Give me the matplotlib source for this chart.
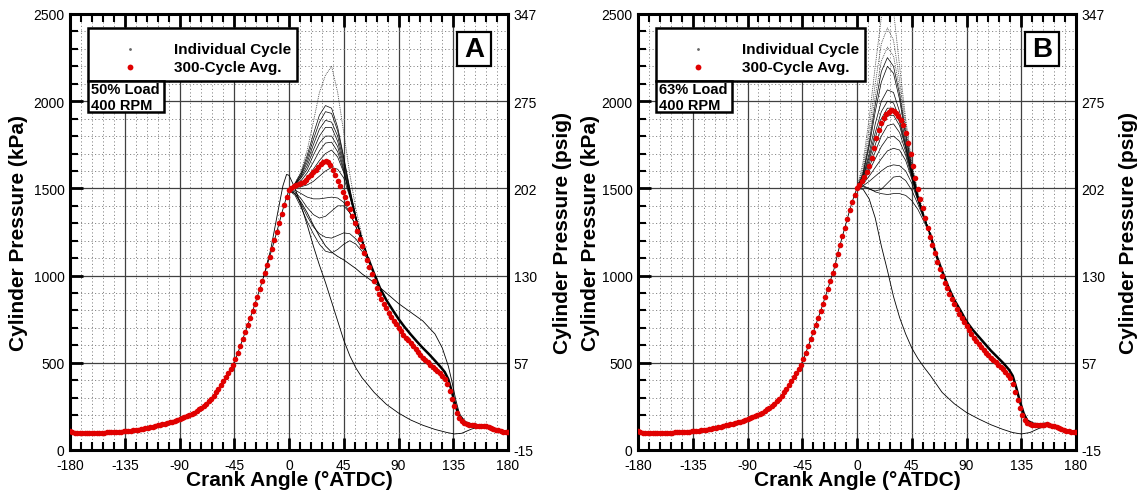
import numpy as np
import matplotlib
matplotlib.use('Agg')
import matplotlib.pyplot as plt
from matplotlib.ticker import MultipleLocator
from matplotlib.patches import Rectangle

plt.rcParams['font.family'] = ['Liberation Sans', 'DejaVu Sans']
plt.rcParams['axes.unicode_minus'] = False

# ---- data (crank angle in deg ATDC, pressure in kPa) ----
ca_avg = np.arange(-180, 181, 2)

# 300-cycle average, panel A (every 2 deg from -180 to 180)
avg_a = [108, 104, 100, 97, 96, 95, 95, 96, 96, 97, 98, 98, 99, 100, 100, 101,
         102, 102, 103, 104, 105, 106, 107, 109, 110, 111, 113, 115, 117, 119, 122,
         125, 128, 131, 134, 138, 141, 144, 148, 151, 155, 159, 163, 168, 172, 177,
         182, 188, 194, 201, 208, 215, 224, 233, 243, 254, 266, 280, 295, 312, 330,
         350, 371, 393, 416, 440, 465, 490, 521, 558, 597, 636, 675, 715, 755, 795,
         837, 880, 923, 968, 1013, 1058, 1105, 1153, 1202, 1252, 1303, 1355, 1405,
         1450, 1490,
         1503, 1512, 1518, 1524, 1530, 1537, 1548, 1563, 1578, 1593, 1608, 1625, 1641,
         1653, 1658, 1652, 1635, 1605, 1575, 1545, 1515, 1482, 1448, 1415, 1380, 1342,
         1300, 1255, 1210, 1170, 1130, 1090, 1050, 1010, 970, 930, 895, 866, 840, 813,
         788, 765, 741, 720, 700, 680, 662, 645, 628, 612, 595, 578, 562, 545, 530,
         515, 502, 489, 477, 465, 452, 439, 425, 408, 378, 340, 295, 252, 212, 184,
         166, 155, 149, 145, 142, 141, 140, 140, 139, 138, 136, 132, 127, 122, 117,
         113, 108, 105, 104, 103]

# 300-cycle average, panel B
avg_b = [108, 104, 100, 97, 96, 95, 95, 96, 96, 97, 98, 98, 99, 100, 100, 101,
         102, 102, 103, 104, 105, 106, 107, 109, 110, 111, 113, 115, 117, 119, 122,
         125, 128, 131, 134, 138, 141, 144, 148, 151, 155, 159, 163, 168, 172, 177,
         182, 188, 194, 201, 208, 215, 224, 233, 243, 254, 266, 280, 295, 312, 330,
         350, 371, 393, 416, 440, 465, 490, 521, 558, 597, 636, 675, 715, 755, 795,
         837, 880, 923, 968, 1013, 1058, 1125, 1175, 1225, 1275, 1325, 1375, 1422,
         1465, 1500,
         1520, 1541, 1565, 1593, 1630, 1675, 1730, 1787, 1835, 1873, 1902, 1925, 1940,
         1947, 1945, 1932, 1916, 1895, 1865, 1818, 1760, 1695, 1627, 1560, 1495, 1437,
         1385, 1328, 1273, 1220, 1173, 1127, 1080, 1040, 1000, 960, 927, 895, 865, 835,
         806, 780, 757, 733, 710, 687, 665, 645, 627, 609, 592, 575, 559, 543, 529,
         515, 502, 489, 475, 462, 448, 432, 410, 378, 335, 285, 238, 200, 170, 155,
         148, 145, 144, 143, 142, 144, 146, 147, 145, 140, 135, 130, 125, 120, 115,
         111, 108, 105, 103, 102]

# individual cycles after TDC (heads), then the common bundle tail
ca_head_a = [0, 5, 10, 15, 20, 25, 30, 35, 40, 45, 50, 55, 60, 65]
heads_a = [
    [1490, 1530, 1600, 1720, 1880, 2050, 2150, 2200, 2050, 1820, 1580, 1380, 1230, 1100],
    [1490, 1530, 1590, 1690, 1810, 1920, 1975, 1960, 1850, 1680, 1500, 1340, 1210, 1100],
    [1490, 1525, 1580, 1670, 1780, 1880, 1940, 1930, 1830, 1670, 1490, 1335, 1210, 1100],
    [1490, 1525, 1575, 1650, 1750, 1840, 1890, 1880, 1800, 1650, 1485, 1335, 1210, 1100],
    [1490, 1520, 1565, 1630, 1720, 1800, 1850, 1850, 1770, 1630, 1475, 1330, 1205, 1100],
    [1490, 1520, 1560, 1610, 1690, 1760, 1800, 1800, 1740, 1610, 1465, 1325, 1205, 1100],
    [1490, 1515, 1545, 1590, 1650, 1715, 1760, 1765, 1710, 1600, 1460, 1320, 1205, 1100],
    [1490, 1510, 1530, 1565, 1610, 1660, 1700, 1720, 1680, 1590, 1460, 1320, 1200, 1100],
    [1490, 1505, 1510, 1520, 1540, 1570, 1600, 1620, 1610, 1560, 1450, 1320, 1200, 1100],
    [1490, 1490, 1470, 1450, 1440, 1440, 1445, 1450, 1445, 1420, 1360, 1280, 1190, 1100],
    [1490, 1480, 1440, 1390, 1350, 1330, 1340, 1370, 1400, 1400, 1360, 1280, 1190, 1100],
    [1490, 1470, 1410, 1340, 1280, 1240, 1220, 1215, 1230, 1245, 1240, 1210, 1160, 1095],
    [1490, 1460, 1390, 1310, 1240, 1180, 1140, 1130, 1150, 1180, 1200, 1180, 1140, 1090],
]
dotted_a = [0]

ca_tail_a = [65, 70, 75, 80, 85, 90, 95, 100, 105, 110, 115, 120, 125, 128, 131, 134,
             137, 140, 145, 150, 155, 160, 165, 170, 175, 180]
tail_a = [1100, 1010, 925, 860, 805, 752, 705, 663, 623, 585, 550, 512, 473, 447, 405,
          330, 250, 192, 158, 146, 142, 140, 131, 119, 109, 103]

ca_late_a = [0, 5, 10, 15, 20, 25, 30, 35, 40, 45, 50, 55, 60, 65, 70, 80, 90, 100,
             110, 120, 126, 131, 134, 137, 140, 145, 150, 160, 170, 180]
late_a = [1490, 1470, 1420, 1360, 1290, 1225, 1170, 1135, 1110, 1090, 1065, 1040, 1010,
          985, 960, 900, 840, 790, 740, 665, 585, 480, 390, 290, 210, 160, 146, 140,
          118, 103]

ca_mis_a = [-21, -15, -10, -5, -2, 0, 5, 10, 15, 20, 25, 30, 35, 40, 45, 50, 55, 60,
            70, 80, 90, 100, 110, 120, 130, 136, 142, 150, 158, 165, 172, 180]
mis_a = [990, 1150, 1335, 1515, 1580, 1575, 1500, 1400, 1290, 1170, 1060, 960, 850, 740,
         630, 540, 470, 415, 330, 262, 212, 172, 142, 118, 100, 92, 96, 120, 136, 125,
         112, 105]

ca_head_b = [0, 5, 10, 15, 20, 25, 30, 35, 40, 45, 50, 55, 60]
heads_b = [
    [1500, 1650, 1900, 2200, 2480, 2620, 2520, 2200, 1900, 1650, 1480, 1350, 1240],
    [1500, 1620, 1840, 2100, 2330, 2420, 2350, 2120, 1870, 1640, 1470, 1345, 1240],
    [1500, 1600, 1790, 2030, 2230, 2310, 2260, 2070, 1840, 1630, 1465, 1345, 1240],
    [1500, 1590, 1760, 1980, 2170, 2250, 2200, 2040, 1820, 1620, 1460, 1340, 1240],
    [1500, 1580, 1740, 1940, 2110, 2200, 2160, 2010, 1800, 1610, 1455, 1340, 1240],
    [1500, 1570, 1700, 1870, 2000, 2065, 2050, 1940, 1770, 1600, 1450, 1340, 1240],
    [1500, 1565, 1680, 1820, 1940, 2000, 1990, 1900, 1750, 1590, 1450, 1335, 1240],
    [1500, 1560, 1660, 1790, 1900, 1960, 1960, 1880, 1740, 1585, 1445, 1335, 1240],
    [1500, 1550, 1640, 1750, 1850, 1915, 1920, 1860, 1730, 1580, 1445, 1335, 1240],
    [1500, 1545, 1620, 1710, 1800, 1860, 1870, 1820, 1710, 1575, 1440, 1335, 1240],
    [1500, 1535, 1600, 1670, 1740, 1790, 1800, 1770, 1690, 1565, 1440, 1335, 1240],
    [1500, 1525, 1570, 1620, 1670, 1715, 1730, 1720, 1660, 1555, 1435, 1330, 1240],
    [1500, 1515, 1540, 1570, 1600, 1625, 1635, 1630, 1600, 1530, 1430, 1330, 1240],
    [1500, 1510, 1495, 1485, 1495, 1530, 1565, 1570, 1545, 1490, 1410, 1325, 1240],
    [1500, 1515, 1500, 1480, 1470, 1465, 1470, 1470, 1460, 1430, 1380, 1310, 1235],
]
dotted_b = [0, 1, 2]

ca_tail_b = [60, 65, 70, 75, 80, 85, 90, 95, 100, 105, 110, 115, 120, 125, 128, 131,
             134, 137, 140, 145, 150, 155, 160, 165, 170, 175, 180]
tail_b = [1240, 1120, 1025, 935, 860, 800, 737, 690, 650, 610, 570, 535, 500, 460, 425,
          355, 275, 210, 168, 150, 146, 150, 142, 130, 117, 108, 102]

ca_mis_b = [0, 5, 10, 15, 20, 25, 30, 35, 40, 45, 50, 55, 60, 70, 80, 90, 100, 110,
            120, 128, 135, 142, 150, 157, 165, 172, 180]
mis_b = [1500, 1495, 1440, 1330, 1170, 1030, 880, 760, 665, 585, 525, 475, 430, 330,
         265, 215, 178, 145, 118, 100, 92, 100, 125, 138, 125, 112, 105]

x_ticks = [-180, -135, -90, -45, 0, 45, 90, 135, 180]
y_ticks = [0, 500, 1000, 1500, 2000, 2500]
psig_labels = ['-15', '57', '130', '202', '275', '347']

RED = '#e00000'
W, H = 1141, 502


def draw_panel(ax, avg, head_ca, heads, dotted, tail_ca, tail, extras, letter, load):
    avg = np.array(avg)
    comp = ca_avg <= 0
    ax.plot(ca_avg[comp], avg[comp], color='k', lw=0.6, zorder=3)
    for i, h in enumerate(heads):
        if i in dotted:
            ax.plot(head_ca, h, color='#333333', lw=0.6, ls=(0, (1, 1.2)), zorder=3)
        else:
            ax.plot(head_ca, h, color='k', lw=0.5, zorder=3)
    ax.plot(tail_ca, tail, color='k', lw=1.8, zorder=3)
    for xs, ys in extras:
        ax.plot(xs, ys, color='k', lw=0.6, zorder=3)
    ax.plot(ca_avg, avg, ls='none', marker='o', ms=4.0, color=RED, mec='none', zorder=4)

    ax.set_xlim(-180, 180)
    ax.set_ylim(0, 2500)
    ax.set_xticks(x_ticks)
    ax.set_yticks(y_ticks)
    ax.xaxis.set_minor_locator(MultipleLocator(9))
    ax.yaxis.set_minor_locator(MultipleLocator(100))
    ax.set_axisbelow(True)
    ax.grid(which='major', color='#404040', lw=0.9)
    ax.grid(which='minor', color='#8a8a8a', lw=0.7, ls=(0, (1.2, 2.4)))
    ax.tick_params(which='both', direction='in', top=True, right=True, labelsize=10)
    ax.tick_params(which='major', length=9, width=2.0, pad=4)
    ax.tick_params(axis='x', which='major', pad=6)
    ax.tick_params(which='minor', length=5.5, width=1.5)
    for s in ax.spines.values():
        s.set_linewidth(2.2)

    ax2 = ax.twinx()
    ax2.set_ylim(0, 2500)
    ax2.set_yticks(y_ticks)
    ax2.set_yticklabels(psig_labels)
    ax2.tick_params(length=0, pad=4, labelsize=10)
    for s in ax2.spines.values():
        s.set_visible(False)

    t = ax.transAxes
    ax.add_patch(Rectangle((0.041, 0.846), 0.477, 0.122, transform=t, fill=True,
                           fc='white', ec='k', lw=1.8, zorder=6))
    ax.plot([0.137], [0.920], transform=t, marker='o', ms=1.0, color='#666666',
            ls='none', zorder=7)
    ax.plot([0.137], [0.878], transform=t, marker='o', ms=4.2, color=RED, mec='none',
            ls='none', zorder=7)
    ax.text(0.237, 0.920, 'Individual Cycle', transform=t, fontsize=11,
            fontweight='bold', va='center', ha='left', zorder=7)
    ax.text(0.237, 0.878, '300-Cycle Avg.', transform=t, fontsize=11,
            fontweight='bold', va='center', ha='left', zorder=7)
    ax.add_patch(Rectangle((0.041, 0.775), 0.174, 0.071, transform=t, fc='white',
                           ec='k', lw=1.8, zorder=6))
    ax.text(0.048, 0.829, load, transform=t, fontsize=10.5, fontweight='bold',
            va='center', ha='left', zorder=7)
    ax.text(0.048, 0.791, '400 RPM', transform=t, fontsize=10.5, fontweight='bold',
            va='center', ha='left', zorder=7)
    ax.add_patch(Rectangle((0.884, 0.881), 0.077, 0.078, transform=t, fc='white',
                           ec='k', lw=1.6, zorder=6))
    ax.text(0.9225, 0.919, letter, transform=t, fontsize=20, fontweight='bold',
            va='center', ha='center', zorder=7)


fig = plt.figure(figsize=(W / 100, H / 100), dpi=100)
ax_a = fig.add_axes([70 / W, 51 / H, 438 / W, 436 / H])
ax_b = fig.add_axes([638 / W, 51 / H, 438 / W, 436 / H])

draw_panel(ax_a, avg_a, ca_head_a, heads_a, dotted_a, ca_tail_a, tail_a,
           [(ca_late_a, late_a), (ca_mis_a, mis_a)], 'A', '50% Load')
draw_panel(ax_b, avg_b, ca_head_b, heads_b, dotted_b, ca_tail_b, tail_b,
           [(ca_mis_b, mis_b)], 'B', '63% Load')

lab = dict(fontsize=15, fontweight='bold', ha='center', va='center')
fig.text(289 / W, 1 - 481 / H, 'Crank Angle (\u00b0ATDC)', **lab)
fig.text(857 / W, 1 - 481 / H, 'Crank Angle (\u00b0ATDC)', **lab)
fig.text(19 / W, 1 - 233 / H, 'Cylinder Pressure (kPa)', rotation=90, **lab)
fig.text(562 / W, 1 - 233 / H, 'Cylinder Pressure (psig)', rotation=90, **lab)
fig.text(590 / W, 1 - 233 / H, 'Cylinder Pressure (kPa)', rotation=90, **lab)
fig.text(1128 / W, 1 - 233 / H, 'Cylinder Pressure (psig)', rotation=90, **lab)

fig.savefig('out.png', dpi=100)
